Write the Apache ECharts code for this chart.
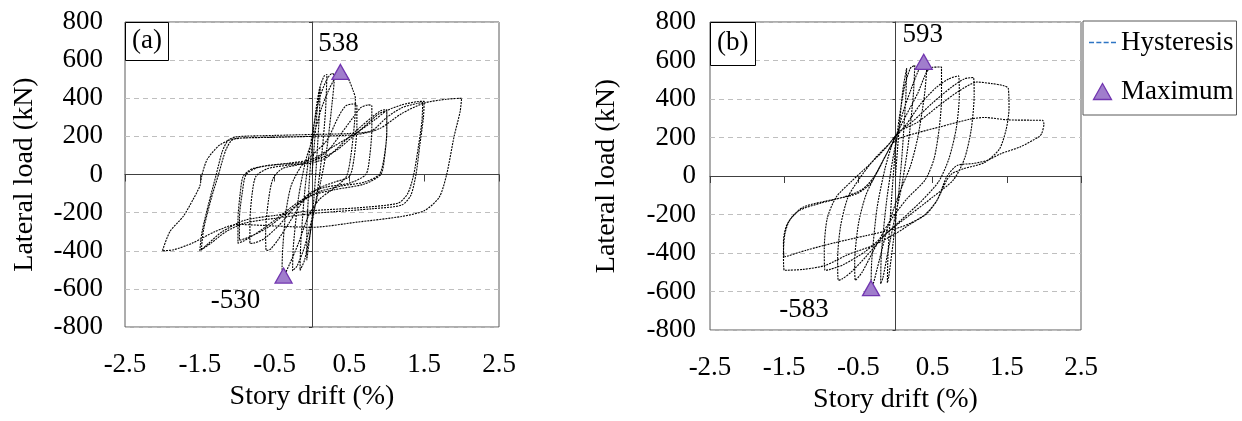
<!DOCTYPE html>
<html>
<head>
<meta charset="utf-8">
<script src="https://cdn.jsdelivr.net/npm/echarts@6/dist/echarts.min.js"></script>
<style>
html,body{margin:0;padding:0;background:#fff;}
#chart{width:1242px;height:421px;}
</style>
</head>
<body>
<div id="chart"></div>
<script>
// ---- Axis ticks ----
const driftTickLabels = [-2.5, -1.5, -0.5, 0.5, 1.5, 2.5];
const loadTickLabels = [-800, -600, -400, -200, 0, 200, 400, 600, 800];

// ---- Panel (a) hysteresis cycles: [drift %, load kN] ----
const aCycle1 = [[0,0],[0.04,200],[0.08,380],[0.11,460],[0.1,330],[0.06,60],[0.02,-150],[-0.03,-330],[-0.07,-450],[-0.07,-320],[-0.04,-60],[0,150]];
const aCycle2 = [[0.05,330],[0.1,450],[0.16,515],[0.2,525],[0.18,330],[0.12,60],[0.06,-120],[-0.02,-300],[-0.1,-450],[-0.16,-503],[-0.15,-360],[-0.1,-100],[-0.04,100],[0.02,250]];
const aCycle3 = [[0.1,400],[0.2,500],[0.27,530],[0.3,520],[0.27,380],[0.2,140],[0.12,-30],[0.02,-200],[-0.1,-380],[-0.2,-480],[-0.26,-505],[-0.25,-380],[-0.18,-120],[-0.08,80],[0.02,200]];
const aCycle4 = [[0.12,340],[0.22,440],[0.3,500],[0.38,538],[0.44,530],[0.5,490],[0.55,440],[0.58,400],[0.57,280],[0.52,100],[0.46,-10],[0.3,-70],[0.1,-130],[-0.05,-220],[-0.18,-360],[-0.3,-470],[-0.38,-530],[-0.4,-490],[-0.39,-380],[-0.35,-200],[-0.28,-60],[-0.15,40],[0,100]];
const aCycle5 = [[0.2,180],[0.35,300],[0.45,360],[0.55,370],[0.6,365],[0.6,250],[0.56,80],[0.5,-10],[0.3,-40],[0.1,-70],[-0.1,-130],[-0.3,-250],[-0.45,-340],[-0.55,-390],[-0.61,-400],[-0.62,-300],[-0.58,-130],[-0.52,-20],[-0.4,30],[-0.2,50],[0,70]];
const aCycle6 = [[0.2,120],[0.4,220],[0.55,300],[0.65,350],[0.75,365],[0.8,360],[0.8,240],[0.77,90],[0.72,0],[0.5,-45],[0.2,-65],[0,-90],[-0.2,-160],[-0.45,-270],[-0.65,-340],[-0.78,-360],[-0.83,-362],[-0.83,-250],[-0.8,-100],[-0.75,-10],[-0.6,30],[-0.3,50],[0,60]];
const aCycle7 = [[0.2,90],[0.45,180],[0.65,250],[0.8,300],[0.92,335],[1.0,340],[1.0,220],[0.96,80],[0.9,0],[0.7,-40],[0.4,-60],[0.1,-90],[-0.2,-150],[-0.5,-240],[-0.75,-310],[-0.92,-350],[-0.99,-360],[-0.99,-240],[-0.96,-100],[-0.92,-10],[-0.8,30],[-0.5,50],[-0.2,60],[0,70]];
const aCycle8 = [[0.3,120],[0.55,200],[0.75,270],[0.9,320],[1.0,335],[1.0,230],[0.97,90],[0.92,0],[0.7,-50],[0.3,-80],[0,-110],[-0.3,-190],[-0.6,-280],[-0.85,-330],[-0.97,-345],[-0.97,-230],[-0.93,-90],[-0.88,0],[-0.7,40],[-0.3,60],[0,80]];
const aCycle9 = [[0.3,150],[0.6,220],[0.85,290],[1.0,335],[1.2,365],[1.4,382],[1.5,384],[1.49,300],[1.44,150],[1.39,0],[1.32,-110],[1.2,-160],[0.8,-180],[0.3,-195],[0,-205],[-0.5,-230],[-0.9,-255],[-1.15,-300],[-1.35,-360],[-1.5,-400],[-1.47,-300],[-1.38,-150],[-1.28,0],[-1.2,120],[-1.12,180],[-1.0,198],[-0.5,205],[0,210],[0.5,215],[0.8,230]];
const aCycle10 = [[1.0,300],[1.2,350],[1.4,372],[1.48,378],[1.47,280],[1.42,140],[1.36,0],[1.28,-100],[1.15,-150],[0.6,-175],[0,-190],[-0.5,-215],[-0.9,-240],[-1.2,-300],[-1.38,-360],[-1.48,-395],[-1.45,-290],[-1.35,-130],[-1.25,0],[-1.15,130],[-1.05,185],[-0.6,195],[0,200],[0.6,210],[0.9,240]];
const aCycle11 = [[1.2,320],[1.5,375],[1.8,395],[2.0,400],[1.98,330],[1.9,200],[1.8,0],[1.7,-120],[1.5,-190],[1.2,-220],[0.6,-250],[0,-277],[-0.5,-270],[-1.0,-262],[-1.3,-300],[-1.6,-360],[-1.85,-395],[-2.0,-400],[-1.9,-300],[-1.72,-219],[-1.59,-131],[-1.5,-61],[-1.47,0],[-1.4,80],[-1.25,150],[-1.12,178],[-1.0,190],[-0.5,195],[0,200]];
const aMaxDrift = [0.38, -0.38];
const aMaxLoad = [538, -530];

// ---- Panel (b) hysteresis cycles: [drift %, load kN] ----
const bCycle1 = [[0,0],[0.05,250],[0.1,450],[0.15,560],[0.14,420],[0.09,120],[0.04,-100],[-0.03,-340],[-0.09,-520],[-0.11,-555],[-0.1,-400],[-0.05,-100],[0,140]];
const bCycle2 = [[0.05,300],[0.12,460],[0.2,560],[0.26,575],[0.24,420],[0.17,160],[0.08,-60],[0,-200],[-0.1,-390],[-0.17,-530],[-0.2,-560],[-0.19,-400],[-0.12,-130],[-0.04,80],[0.02,200]];
const bCycle3 = [[0.1,330],[0.2,440],[0.3,540],[0.38,593],[0.42,570],[0.39,420],[0.3,200],[0.2,50],[0.05,-90],[-0.1,-260],[-0.22,-440],[-0.3,-560],[-0.33,-583],[-0.32,-440],[-0.25,-170],[-0.14,40],[-0.03,180]];
const bCycle4 = [[0.15,320],[0.3,430],[0.42,540],[0.5,565],[0.62,566],[0.62,400],[0.59,250],[0.52,90],[0.4,-20],[0.15,-120],[-0.1,-250],[-0.3,-390],[-0.45,-500],[-0.54,-542],[-0.55,-450],[-0.5,-250],[-0.4,-100],[-0.25,20],[-0.1,130],[0,200]];
const bCycle5 = [[0.15,270],[0.35,380],[0.55,460],[0.72,505],[0.85,520],[0.86,420],[0.82,250],[0.72,90],[0.58,-30],[0.35,-130],[0.1,-220],[-0.15,-310],[-0.4,-420],[-0.6,-500],[-0.72,-535],[-0.77,-542],[-0.78,-430],[-0.74,-260],[-0.64,-110],[-0.48,-10],[-0.28,90],[-0.08,170],[0.05,230]];
const bCycle6 = [[0.25,290],[0.5,380],[0.75,460],[0.93,505],[1.05,512],[1.06,420],[1.02,240],[0.93,90],[0.78,-20],[0.5,-110],[0.2,-200],[-0.1,-290],[-0.4,-390],[-0.7,-460],[-0.88,-485],[-0.95,-490],[-0.96,-380],[-0.92,-220],[-0.8,-110],[-0.6,-30],[-0.35,60],[-0.12,150],[0.05,230]];
const bCycle7 = [[0.3,280],[0.6,370],[0.85,440],[1.1,488],[1.3,480],[1.45,470],[1.52,455],[1.53,350],[1.49,240],[1.4,140],[1.2,70],[0.92,38],[0.76,12],[0.69,-22],[0.56,-126],[0.42,-196],[0.2,-250],[0,-300],[-0.3,-360],[-0.65,-410],[-0.95,-465],[-1.24,-485],[-1.5,-490],[-1.51,-400],[-1.49,-300],[-1.42,-225],[-1.24,-161],[-0.79,-118],[-0.52,-92],[-0.34,-40],[-0.21,47],[-0.07,151],[0.02,190]];
const bCycle8 = [[0.3,225],[0.6,255],[1.0,295],[1.2,304],[1.5,292],[1.8,290],[1.98,290],[2.0,270],[1.97,220],[1.93,203],[1.68,151],[1.42,116],[1.24,82],[1.05,65],[0.83,55],[0.69,-5],[0.56,-126],[0.4,-200],[0.2,-245],[0,-274],[-0.4,-310],[-0.8,-345],[-1.2,-385],[-1.5,-421],[-1.51,-340],[-1.46,-250],[-1.3,-180],[-1.0,-140],[-0.7,-110],[-0.45,-70],[-0.3,-10],[-0.18,70]];
const bMaxDrift = [0.38, -0.33];
const bMaxLoad = [593, -583];

// ---- build ----
const aHysteresis = [].concat(aCycle1,aCycle2,aCycle3,aCycle4,aCycle5,aCycle6,aCycle7,aCycle8,aCycle9,aCycle10,aCycle11);
const bHysteresis = [].concat(bCycle1,bCycle2,bCycle3,bCycle4,bCycle5,bCycle6,bCycle7,bCycle8);

const FONT = '"Liberation Serif", "Times New Roman", serif';
const xMin = driftTickLabels[0], xMax = driftTickLabels[driftTickLabels.length-1];
const xStep = driftTickLabels[1] - driftTickLabels[0];
const yMin = loadTickLabels[0], yMax = loadTickLabels[loadTickLabels.length-1];
const yStep = loadTickLabels[1] - loadTickLabels[0];

const grids = [
  {left:125, top:22, width:374, height:305},
  {left:710, top:22, width:371, height:308}
];
const yLabelMargin = [22, 14];
const yNameGap = [86, 89];

function maxData(drifts, loads, offsets) {
  return drifts.map((d, i) => ({
    value: [d, loads[i]],
    label: {show:true, position: loads[i] > 0 ? 'top' : 'bottom', distance:5, offset: offsets[i],
            formatter: String(loads[i]), color:'#000', opacity:1, textBorderWidth:0,
            fontSize:27, fontFamily:FONT}
  }));
}

const xAxes = [], yAxes = [];
grids.forEach((g, gi) => {
  const base = gi*2;
  xAxes.push({
    gridIndex: gi, type:'value', min:xMin, max:xMax, interval:xStep, position:'bottom',
    axisLine:{show:true, onZero:true, onZeroAxisIndex: base, lineStyle:{color:'#404040', width:1}},
    axisTick:{show:true, inside:false, length:7, lineStyle:{color:'#404040', width:1}},
    axisLabel:{show:false}, splitLine:{show:false}
  });
  xAxes.push({
    gridIndex: gi, type:'value', min:xMin, max:xMax, interval:xStep, position:'bottom',
    axisLine:{show:false, onZero:false}, axisTick:{show:false}, splitLine:{show:false},
    axisLabel:{show:true, margin:24, color:'#000', fontSize:27, fontFamily:FONT,
      formatter: v => String(v)},
    name:'Story drift (%)', nameLocation:'middle', nameGap:53,
    nameTextStyle:{color:'#000', fontSize:28, fontFamily:FONT}
  });
  yAxes.push({
    gridIndex: gi, type:'value', min:yMin, max:yMax, interval:yStep, position:'left',
    axisLine:{show:true, onZero:true, onZeroAxisIndex: base, lineStyle:{color:'#404040', width:1}},
    axisTick:{show:true, inside:false, length:3, lineStyle:{color:'#404040', width:1}},
    axisLabel:{show:false},
    splitLine:{show:true, lineStyle:{color:'#bfbfbf', type:[5,4], width:1}}
  });
  yAxes.push({
    gridIndex: gi, type:'value', min:yMin, max:yMax, interval:yStep, position:'left',
    axisLine:{show:false, onZero:false}, axisTick:{show:false}, splitLine:{show:false},
    axisLabel:{show:true, margin:yLabelMargin[gi], color:'#000', fontSize:27, fontFamily:FONT},
    name:'Lateral load (kN)', nameLocation:'middle', nameGap:yNameGap[gi],
    nameTextStyle:{color:'#000', fontSize:28, fontFamily:FONT}
  });
});

const lineStyle = {color:'#000', width:1.1, type:[2,1]};
const triStyle = {color:'#a07dcc', borderColor:'#7236b0', borderWidth:1.3, opacity:1};
const dashIcon = 'path://M0,0h5v1.6h-5zM7.3,0h5v1.6h-5zM14.6,0h5v1.6h-5zM21.9,0h5v1.6h-5z';

const option = {
  animation:false,
  backgroundColor:'#fff',
  title:[
    {text:'(a)', left:125, top:22, padding:[5,7,7,7], borderColor:'#000', borderWidth:1, backgroundColor:'#fff',
     textStyle:{fontSize:27, fontWeight:'normal', fontFamily:FONT, color:'#000'}},
    {text:'(b)', left:710, top:22, padding:[7,7,10,7], borderColor:'#000', borderWidth:1, backgroundColor:'#fff',
     textStyle:{fontSize:27, fontWeight:'normal', fontFamily:FONT, color:'#000'}}
  ],
  legend:{
    orient:'vertical', left:1083, top:21, padding:[8,3,10,6], itemGap:22,
    itemWidth:27, itemHeight:16, borderColor:'#595959', borderWidth:1,
    textStyle:{fontSize:27, fontFamily:FONT, color:'#000'},
    data:[
      {name:'Hysteresis', icon:dashIcon, itemStyle:{color:'#2e75c4', borderWidth:0}},
      {name:'Maximum', icon:'path://M0,16L9,0L18,16Z', itemStyle:triStyle}
    ]
  },
  grid: grids.map(g => Object.assign({show:true, borderColor:'#5a5a5a', borderWidth:1, backgroundColor:'transparent'}, g)),
  xAxis: xAxes,
  yAxis: yAxes,
  series:[
    {name:'Hysteresis', type:'line', xAxisIndex:0, yAxisIndex:0, data:aHysteresis, symbol:'none', smooth:0.25,
     lineStyle:lineStyle, z:2},
    {name:'Maximum', type:'scatter', xAxisIndex:0, yAxisIndex:0, symbol:'triangle', symbolSize:[17,15],
     itemStyle:triStyle, z:5, data:maxData(aMaxDrift, aMaxLoad, [[-2,-1],[-48,-1]])},
    {name:'Hysteresis', type:'line', xAxisIndex:2, yAxisIndex:2, data:bHysteresis, symbol:'none', smooth:0.25,
     lineStyle:lineStyle, z:2},
    {name:'Maximum', type:'scatter', xAxisIndex:2, yAxisIndex:2, symbol:'triangle', symbolSize:[17,15],
     itemStyle:triStyle, z:5, data:maxData(bMaxDrift, bMaxLoad, [[-1,0],[-67,-5]])}
  ]
};

const chart = echarts.init(document.getElementById('chart'), null, {renderer:'canvas'});
chart.setOption(option);
</script>
</body>
</html>
